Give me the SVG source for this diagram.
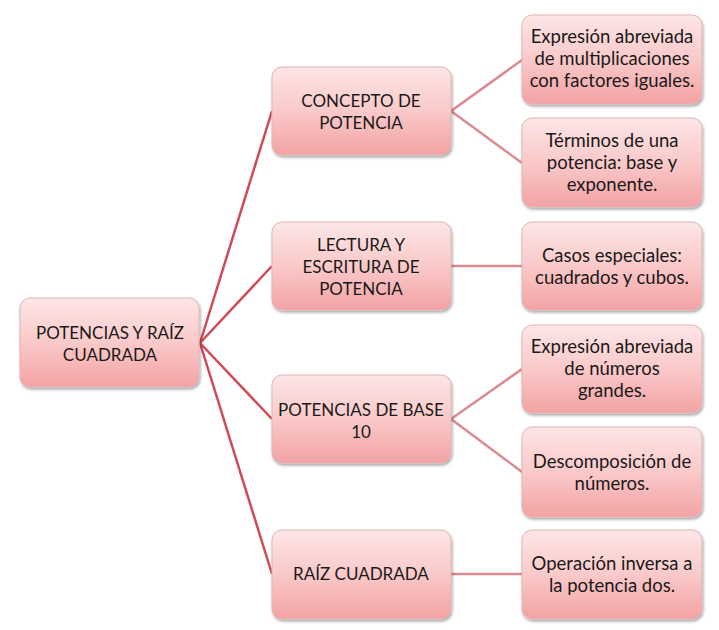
<svg xmlns="http://www.w3.org/2000/svg" width="719" height="630" viewBox="0 0 719 630">
<defs>
<linearGradient id="g" x1="0" y1="0" x2="0" y2="1">
<stop offset="0" stop-color="#fde6e6"/>
<stop offset="0.5" stop-color="#fac9c9"/>
<stop offset="1" stop-color="#f3a2a4"/>
</linearGradient>
<filter id="sh" x="-10%" y="-10%" width="130%" height="130%">
<feGaussianBlur in="SourceAlpha" stdDeviation="1.5"/>
<feOffset dx="1" dy="2" result="b"/>
<feComponentTransfer><feFuncA type="linear" slope="0.35"/></feComponentTransfer>
<feMerge><feMergeNode/><feMergeNode in="SourceGraphic"/></feMerge>
</filter>
</defs>
<style>
.box{fill:url(#g);stroke:#e3b4b5;stroke-width:1;filter:url(#sh)}
.t{font-family:Lato,"Liberation Sans",sans-serif;font-size:17px;fill:#1a1a1a;text-anchor:middle}
.s{font-size:18.5px}
.c1{stroke:#d04b53;stroke-width:2.5;fill:none}
.c2{stroke:#da8a91;stroke-width:2.5;fill:none}
</style>
<rect width="719" height="630" fill="#ffffff"/>
<g id="connectors">
<line class="c1" x1="200" y1="343" x2="272" y2="111"/>
<line class="c1" x1="200" y1="343" x2="272" y2="266"/>
<line class="c1" x1="200" y1="343" x2="272" y2="419"/>
<line class="c1" x1="200" y1="343" x2="272" y2="574"/>
<line class="c2" x1="451" y1="111" x2="522" y2="60"/>
<line class="c2" x1="451" y1="111" x2="522" y2="163"/>
<line class="c2" x1="451" y1="266" x2="522" y2="266"/>
<line class="c2" x1="451" y1="419" x2="522" y2="369"/>
<line class="c2" x1="451" y1="419" x2="522" y2="472"/>
<line class="c2" x1="451" y1="574" x2="522" y2="574"/>
</g>
<g id="root">
<rect class="box" x="20" y="298" width="179" height="89" rx="10"/>
<text class="t" x="110" y="339">POTENCIAS Y RAÍZ</text>
<text class="t" x="110" y="361">CUADRADA</text>
</g>
<g id="concepto">
<rect class="box" x="272" y="67" width="179" height="88" rx="10"/>
<text class="t" x="361" y="107">CONCEPTO DE</text>
<text class="t" x="361" y="129">POTENCIA</text>
</g>
<g id="lectura">
<rect class="box" x="272" y="222" width="179" height="88" rx="10"/>
<text class="t" x="361" y="251">LECTURA Y</text>
<text class="t" x="361" y="273">ESCRITURA DE</text>
<text class="t" x="361" y="295">POTENCIA</text>
</g>
<g id="base10">
<rect class="box" x="272" y="375" width="179" height="88" rx="10"/>
<text class="t" x="361" y="416">POTENCIAS DE BASE</text>
<text class="t" x="361" y="438">10</text>
</g>
<g id="raiz">
<rect class="box" x="272" y="530" width="179" height="89" rx="10"/>
<text class="t" x="361" y="580">RAÍZ CUADRADA</text>
</g>
<g id="expr1">
<rect class="box" x="522" y="15" width="180" height="89" rx="10"/>
<text class="t s" x="612" y="43">Expresión abreviada</text>
<text class="t s" x="612" y="65">de multiplicaciones</text>
<text class="t s" x="612" y="87">con factores iguales.</text>
</g>
<g id="terminos">
<rect class="box" x="522" y="118" width="180" height="89" rx="10"/>
<text class="t s" x="612" y="147">Términos de una</text>
<text class="t s" x="612" y="169">potencia: base y</text>
<text class="t s" x="612" y="191">exponente.</text>
</g>
<g id="casos">
<rect class="box" x="522" y="222" width="180" height="88" rx="10"/>
<text class="t s" x="612" y="262">Casos especiales:</text>
<text class="t s" x="612" y="284">cuadrados y cubos.</text>
</g>
<g id="expr2">
<rect class="box" x="522" y="325" width="180" height="88" rx="10"/>
<text class="t s" x="612" y="353">Expresión abreviada</text>
<text class="t s" x="612" y="375">de números</text>
<text class="t s" x="612" y="397">grandes.</text>
</g>
<g id="descomp">
<rect class="box" x="522" y="427" width="180" height="90" rx="10"/>
<text class="t s" x="612" y="468">Descomposición de</text>
<text class="t s" x="612" y="490">números.</text>
</g>
<g id="operacion">
<rect class="box" x="522" y="530" width="180" height="89" rx="10"/>
<text class="t s" x="612" y="570">Operación inversa a</text>
<text class="t s" x="612" y="592">la potencia dos.</text>
</g>
</svg>
